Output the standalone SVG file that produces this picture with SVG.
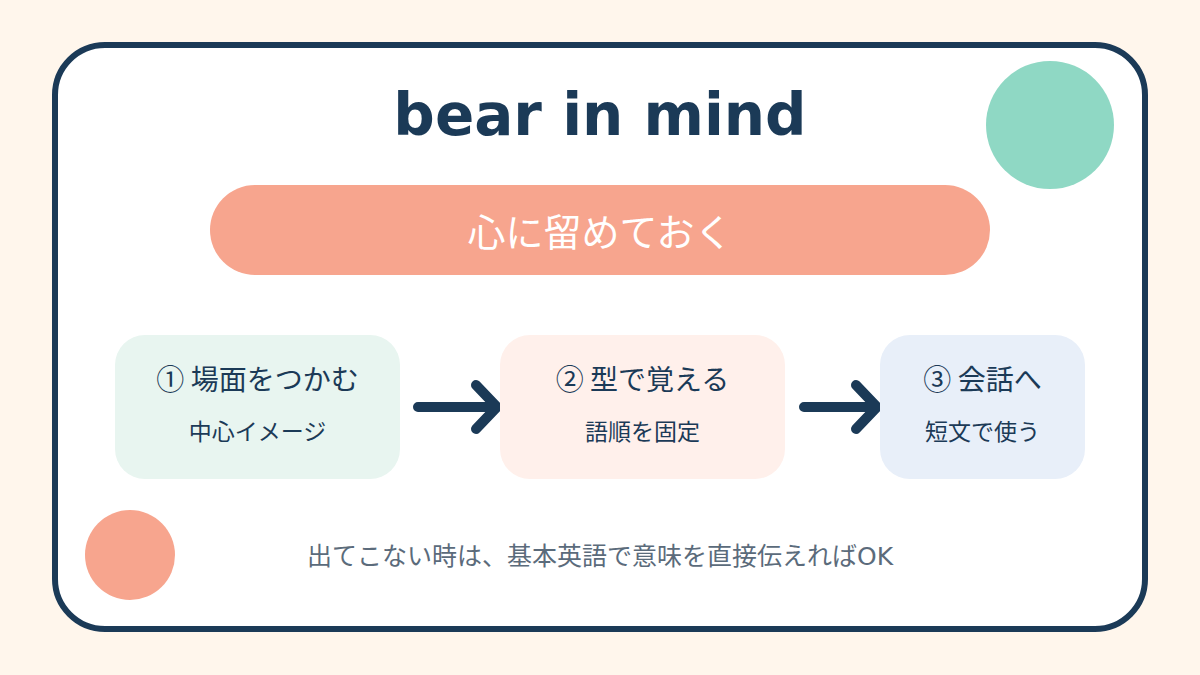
<svg xmlns="http://www.w3.org/2000/svg" width="1200" height="675" viewBox="0 0 1200 675">
  <style>
    .jp { font-family: "DejaVu Sans", "Noto Sans CJK JP", sans-serif; }
    .step { font-family: "Noto Sans CJK JP", sans-serif; font-size: 28px; fill: #1B3A57; text-anchor: middle; }
    .sub { font-size: 23px; fill: #1B3A57; text-anchor: middle; }
    .arrow { fill: none; stroke: #1B3A57; stroke-width: 10; stroke-linecap: round; stroke-linejoin: round; }
  </style>
  <rect x="0" y="0" width="1200" height="675" fill="#FFF6EC"/>
  <g id="card">
    <rect x="55" y="45" width="1090" height="584" rx="50" ry="50" fill="#FFFFFF" stroke="#1B3A57" stroke-width="6"/>
  </g>
  <g id="decor">
    <circle cx="1050" cy="125" r="64" fill="#8FD8C4"/>
    <circle cx="130" cy="555" r="45" fill="#F7A58E"/>
  </g>
  <g id="title">
    <text x="600" y="135" font-family="DejaVu Sans, sans-serif" font-weight="bold" font-size="58" fill="#1B3A57" text-anchor="middle">bear in mind</text>
  </g>
  <g id="meaning">
    <rect x="210" y="185" width="780" height="90" rx="45" ry="45" fill="#F7A58E"/>
    <text class="jp" x="600" y="246" font-size="38" fill="#FFFFFF" text-anchor="middle">心に留めておく</text>
  </g>
  <g id="connectors">
    <path class="arrow" d="M418 407 H488 M476 385 L497 407 L476 429"/>
    <path class="arrow" d="M804 407 H868 M856 385 L877 407 L856 429"/>
  </g>
  <g id="step1">
    <rect x="115" y="335" width="285" height="144" rx="30" ry="30" fill="#E8F5F0"/>
    <text class="step" x="257.5" y="390">① 場面をつかむ</text>
    <text class="jp sub" x="257.5" y="440">中心イメージ</text>
  </g>
  <g id="step2">
    <rect x="500" y="335" width="285" height="144" rx="30" ry="30" fill="#FFF0EB"/>
    <text class="step" x="642.5" y="390">② 型で覚える</text>
    <text class="jp sub" x="642.5" y="440">語順を固定</text>
  </g>
  <g id="step3">
    <rect x="880" y="335" width="205" height="144" rx="30" ry="30" fill="#E8EFF9"/>
    <text class="step" x="982.5" y="390">③ 会話へ</text>
    <text class="jp sub" x="982.5" y="440">短文で使う</text>
  </g>
  <g id="footer">
    <text class="jp" x="600" y="565" font-size="25" fill="#5B6B7B" text-anchor="middle">出てこない時は、基本英語で意味を直接伝えればOK</text>
  </g>
</svg>
